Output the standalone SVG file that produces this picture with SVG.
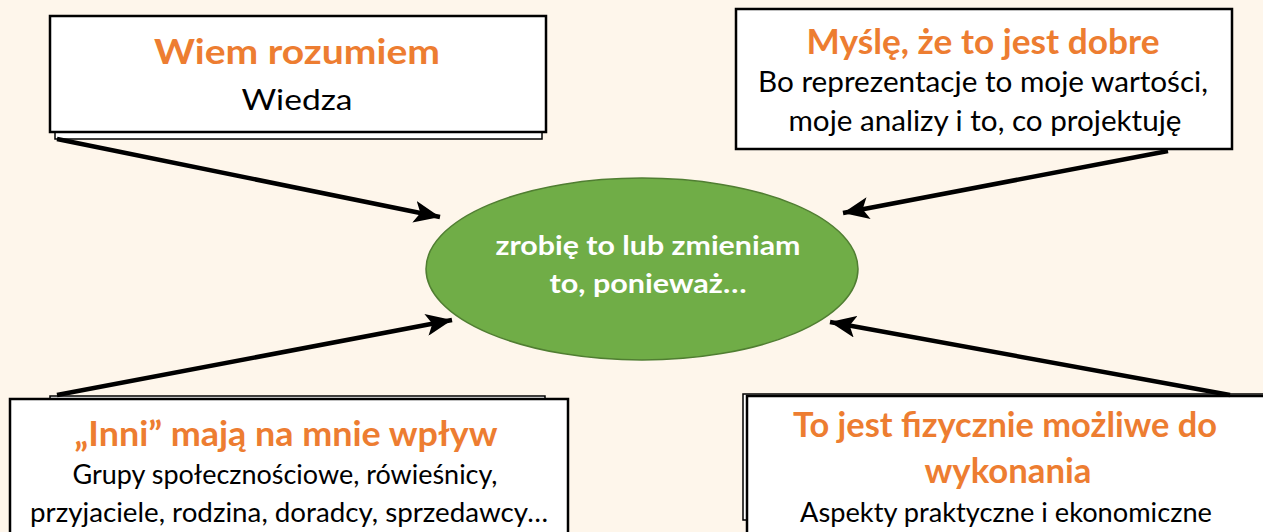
<svg xmlns="http://www.w3.org/2000/svg" width="1263" height="532" viewBox="0 0 1263 532">
<defs>
<style>
.bg{fill:#FEF6EB}
.box{fill:#FFFFFF;stroke:#000000;stroke-width:2.5}
.back{fill:#FFFFFF;stroke:#000000;stroke-width:1.5}
.ttl{font-family:Lato,"Liberation Sans",sans-serif;font-weight:bold;fill:#ED7D31;text-anchor:middle}
.txt{font-family:Lato,"Liberation Sans",sans-serif;fill:#000000;text-anchor:middle}
.ell{font-family:Lato,"Liberation Sans",sans-serif;font-weight:bold;fill:#FFFFFF;text-anchor:middle}
.arr{stroke:#000000;stroke-width:4.5;fill:none;marker-end:url(#ah)}
</style>
<marker id="ah" markerUnits="userSpaceOnUse" markerWidth="28" markerHeight="22" refX="26" refY="11" orient="auto">
<path d="M0,0 L26,11 L0,22 L6,11 Z" fill="#000000"/>
</marker>
</defs>
<rect class="bg" x="0" y="0" width="1263" height="532"/>

<g id="node-wiem">
<rect class="back" x="55" y="24" width="487" height="115"/>
<rect class="box" x="50" y="16" width="496" height="116"/>
<text class="ttl" x="297" y="64" font-size="34" textLength="286" lengthAdjust="spacingAndGlyphs">Wiem rozumiem</text>
<text class="txt" x="297" y="110" font-size="29" textLength="111" lengthAdjust="spacingAndGlyphs">Wiedza</text>
</g>

<g id="node-mysle">
<rect class="box" x="736" y="9" width="496" height="140"/>
<text class="ttl" x="983" y="54" font-size="34" textLength="353" lengthAdjust="spacingAndGlyphs">Myślę, że to jest dobre</text>
<text class="txt" x="983" y="92" font-size="28" textLength="450" lengthAdjust="spacingAndGlyphs">Bo reprezentacje to moje wartości,</text>
<text class="txt" x="985" y="131" font-size="28" textLength="393" lengthAdjust="spacingAndGlyphs">moje analizy i to, co projektuję</text>
</g>

<g id="node-center">
<ellipse cx="642" cy="269" rx="216" ry="91" fill="#70AD47" stroke="#507E32" stroke-width="1.5"/>
<text class="ell" x="648" y="255" font-size="27" textLength="305" lengthAdjust="spacingAndGlyphs">zrobię to lub zmieniam</text>
<text class="ell" x="648" y="293" font-size="27" textLength="197" lengthAdjust="spacingAndGlyphs">to, ponieważ…</text>
</g>

<g id="node-inni">
<rect class="back" x="50" y="396" width="495" height="150"/>
<rect class="box" x="10" y="399" width="558" height="150"/>
<text class="ttl" x="286" y="446" font-size="34" textLength="423" lengthAdjust="spacingAndGlyphs">„Inni” mają na mnie wpływ</text>
<text class="txt" x="285" y="484" font-size="27" textLength="425" lengthAdjust="spacingAndGlyphs">Grupy społecznościowe, rówieśnicy,</text>
<text class="txt" x="289" y="522" font-size="27" textLength="518" lengthAdjust="spacingAndGlyphs">przyjaciele, rodzina, doradcy, sprzedawcy…</text>
</g>

<g id="node-fizycznie">
<rect class="back" x="743" y="394" width="540" height="126"/>
<rect class="box" x="747" y="396" width="540" height="160"/>
<text class="ttl" x="1005" y="437" font-size="34" textLength="424" lengthAdjust="spacingAndGlyphs">To jest fizycznie możliwe do</text>
<text class="ttl" x="1008" y="483" font-size="34" textLength="167" lengthAdjust="spacingAndGlyphs">wykonania</text>
<text class="txt" x="1006" y="522" font-size="27" textLength="412" lengthAdjust="spacingAndGlyphs">Aspekty praktyczne i ekonomiczne</text>
</g>

<g id="connectors">
<line class="arr" x1="57" y1="139" x2="440" y2="217"/>
<line class="arr" x1="1168" y1="151" x2="843" y2="213"/>
<line class="arr" x1="57" y1="395" x2="452" y2="320"/>
<line class="arr" x1="1230" y1="395" x2="830" y2="322"/>
</g>
</svg>
